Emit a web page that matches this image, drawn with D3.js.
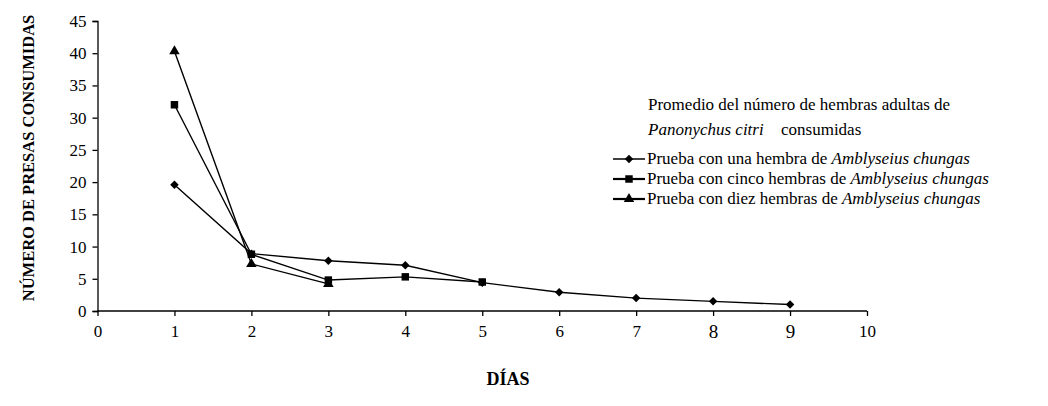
<!DOCTYPE html>
<html>
<head>
<meta charset="utf-8">
<script src="https://cdn.jsdelivr.net/npm/d3@7/dist/d3.min.js"></script>
<style>
  html, body { margin: 0; padding: 0; background: #fff; }
  svg { display: block; }
  svg text { font-family: "Liberation Serif", "Times New Roman", serif; }
</style>
</head>
<body>
<svg id="chart" width="1048" height="406"></svg>
<script>
// ---- Data ----
const xTicks = [0, 1, 2, 3, 4, 5, 6, 7, 8, 9, 10];
const yTicks = [0, 5, 10, 15, 20, 25, 30, 35, 40, 45];
const days1 = [1, 2, 3, 4, 5, 6, 7, 8, 9];
const unaHembra = [19.6, 8.9, 7.8, 7.1, 4.4, 2.9, 2.0, 1.5, 1.0];
const days2 = [1, 2, 3, 4, 5];
const cincoHembras = [32.0, 8.8, 4.8, 5.3, 4.5];
const days3 = [1, 2, 3];
const diezHembras = [40.3, 7.3, 4.2];
const seriesNames = [
  ["Prueba con una hembra de ", "Amblyseius chungas"],
  ["Prueba con cinco hembras de ", "Amblyseius chungas"],
  ["Prueba con diez hembras de ", "Amblyseius chungas"]
];
const yTitle = "NÚMERO DE PRESAS CONSUMIDAS";
const xTitle = "DÍAS";

// ---- Layout ----
const FONT = "Liberation Serif";
const svg = d3.select("#chart");
const x = d3.scaleLinear().domain([0, 10]).range([97.5, 867]);
const y = d3.scaleLinear().domain([0, 45]).range([311, 21]);

const series = [
  { days: days1, vals: unaHembra, sym: d3.symbolSquare, size: 36, rot: 45 },
  { days: days2, vals: cincoHembras, sym: d3.symbolSquare, size: 56, rot: 0 },
  { days: days3, vals: diezHembras, sym: d3.symbolTriangle, size: 48, rot: 0 }
];

// Axes
const yAxis = d3.axisLeft(y).tickValues(yTicks).tickSize(5).tickPadding(6);
const gy = svg.append("g").attr("transform", `translate(${x(0)},0)`).call(yAxis)
  .attr("font-family", FONT);
gy.selectAll("text").attr("font-size", 17).attr("font-family", FONT).attr("fill", "#000");
gy.selectAll("line, path").attr("stroke", "#000").attr("stroke-width", 1.3);

const xAxis = d3.axisBottom(x).tickValues(xTicks).tickSize(5).tickPadding(9);
const gx = svg.append("g").attr("transform", `translate(0,${y(0)})`).call(xAxis)
  .attr("font-family", FONT);
gx.selectAll("text").attr("font-size", d => (d === 8 || d === 9) ? 19 : 17)
  .attr("font-family", FONT).attr("fill", "#000");
gx.selectAll("line, path").attr("stroke", "#000").attr("stroke-width", 1.3);
gx.select("path.domain").attr("d", `M${x(0)},0H${x(10)}`);

// Lines and markers
const line = d3.line().x(d => x(d[0])).y(d => y(d[1]));
series.forEach(s => {
  const pts = s.days.map((d, i) => [d, s.vals[i]]);
  svg.append("path").datum(pts).attr("d", line)
    .attr("fill", "none").attr("stroke", "#000").attr("stroke-width", 1.4);
  svg.append("g").selectAll("path").data(pts).join("path")
    .attr("transform", d => `translate(${x(d[0])},${y(d[1])}) rotate(${s.rot})`)
    .attr("d", d3.symbol().type(s.sym).size(s.size))
    .attr("fill", "#000");
});

// Axis titles
svg.append("text")
  .attr("transform", "translate(34,158) rotate(-90)")
  .attr("text-anchor", "middle").attr("font-family", FONT)
  .attr("font-size", 16.5).attr("font-weight", "bold")
  .text(yTitle);
svg.append("text")
  .attr("x", 508).attr("y", 385)
  .attr("text-anchor", "middle").attr("font-family", FONT)
  .attr("font-size", 18).attr("font-weight", "bold")
  .text(xTitle);

// Legend
const lg = svg.append("g").attr("font-family", FONT);
lg.append("text").attr("x", 648).attr("y", 110).attr("font-size", 17).attr("font-family", FONT)
  .text("Promedio del número de hembras adultas de");
lg.append("text").attr("x", 648).attr("y", 135).attr("font-size", 17).attr("font-family", FONT)
  .attr("font-style", "italic").text("Panonychus citri");
lg.append("text").attr("x", 781).attr("y", 135).attr("font-size", 17).attr("font-family", FONT)
  .text("consumidas");
const entryY = [164, 184, 204];
series.forEach((s, i) => {
  const ly = entryY[i] - 5;
  lg.append("line").attr("x1", 613).attr("x2", 645).attr("y1", ly).attr("y2", ly)
    .attr("stroke", "#000").attr("stroke-width", i === 0 ? 1.5 : 2.2);
  lg.append("path").attr("transform", `translate(629,${ly}) rotate(${s.rot})`)
    .attr("d", d3.symbol().type(s.sym).size(s.size)).attr("fill", "#000");
  const t = lg.append("text").attr("x", 647).attr("y", entryY[i]).attr("font-size", 17)
    .attr("font-family", FONT);
  t.append("tspan").text(seriesNames[i][0]);
  t.append("tspan").attr("font-style", "italic").text(seriesNames[i][1]);
});
</script>
</body>
</html>
